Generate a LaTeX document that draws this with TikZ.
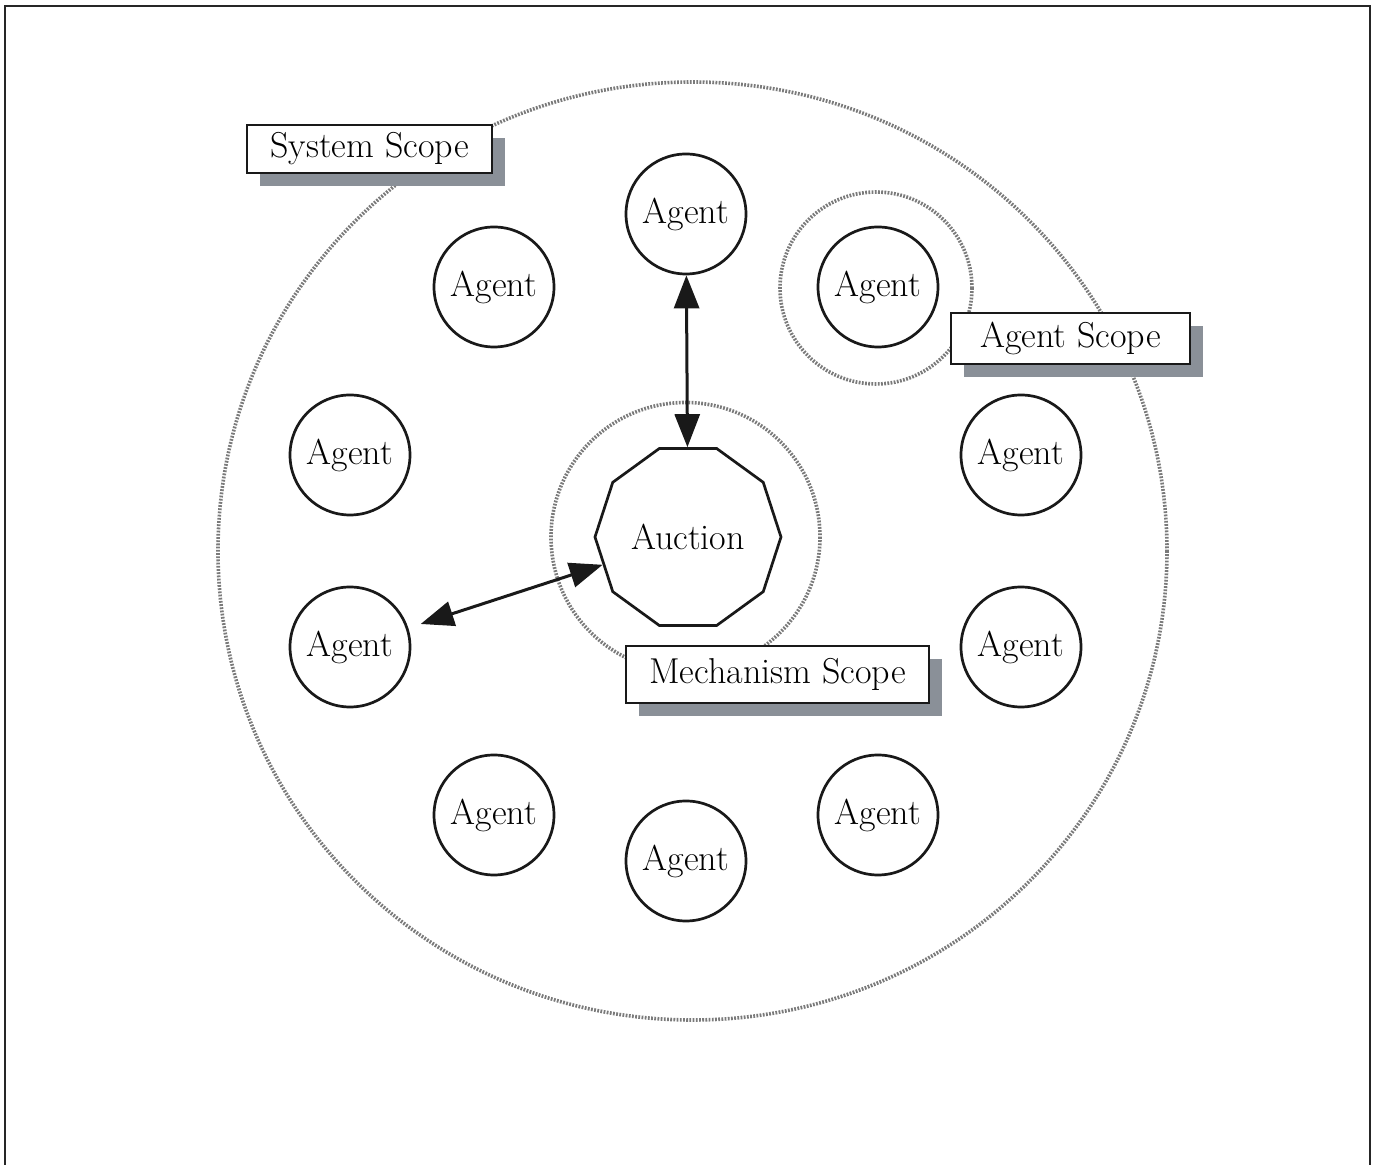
\documentclass[tikz,border=0pt]{standalone}
\usetikzlibrary{shapes.geometric,arrows.meta,shadows}
\definecolor{shadowgray}{HTML}{8A9098}
\definecolor{scopegray}{HTML}{7A7A7A}
\tikzset{
  scopecirc/.style={draw=scopegray, line width=1.8pt, dash pattern=on 0.9pt off 0.7pt},
  agent/.style={circle, draw=black!90, line width=1.35pt, minimum size=60pt, inner sep=0pt, fill=white,
                font=\fontsize{18}{21}\selectfont},
  auction/.style={regular polygon, regular polygon sides=10, draw=black!90,
                  line width=1.35pt, minimum size=93pt, inner sep=0pt, fill=white,
                  font=\fontsize{18}{21}\selectfont},
  scopelabel/.style={rectangle, draw=black!90, line width=1.3pt, fill=white, inner sep=0pt,
                     font=\fontsize{18}{21}\selectfont,
                     drop shadow={shadow xshift=6.5pt, shadow yshift=-6.5pt, fill=shadowgray, opacity=1, draw=none}},
  biarrow/.style={{Triangle[length=16.5pt,width=12.5pt]}-{Triangle[length=16.5pt,width=12.5pt]},
                  line width=1.5pt, draw=black!90}
}
\begin{document}
\begin{tikzpicture}[x=0.5pt,y=-0.5pt]
\useasboundingbox (0,0) rectangle (1373,1165);
% frame (open at bottom)
\draw[line width=1pt, black!85] (5,1165) -- (5,6) -- (1370,6) -- (1370,1165);

% scopes
\draw[scopecirc] (692.5,551) ellipse [x radius=474.5, y radius=469];
\draw[scopecirc] (685.5,537) circle [radius=134.5];
\draw[scopecirc] (876,288) circle [radius=96];

% scope labels
\node[scopelabel, minimum width=122.5pt, minimum height=24pt] (sys) at (369.5,149) {System Scope};
\node[scopelabel, minimum width=119.5pt, minimum height=25.5pt] (agsc) at (1070.5,338.5) {Agent Scope};
\node[scopelabel, minimum width=151.5pt, minimum height=28.5pt] (mech) at (777.5,674.5) {Mechanism Scope};

% agents
\node[agent] (a1) at (686,214) {Agent};
\node[agent] (a2) at (494,287) {Agent};
\node[agent] (a3) at (878,287) {Agent};
\node[agent] (a4) at (350,455) {Agent};
\node[agent] (a5) at (1021,455) {Agent};
\node[agent] (a6) at (350,647) {Agent};
\node[agent] (a7) at (1021,647) {Agent};
\node[agent] (a8) at (494,815) {Agent};
\node[agent] (a9) at (686,861) {Agent};
\node[agent] (a10) at (878,815) {Agent};

% auction
\node[auction] (auc) at (688,537) {Auction};

% connectors
\draw[biarrow] (a1) -- (auc);
\draw[biarrow, shorten >=6.5pt] (auc) -- (a6);
\end{tikzpicture}
\end{document}
